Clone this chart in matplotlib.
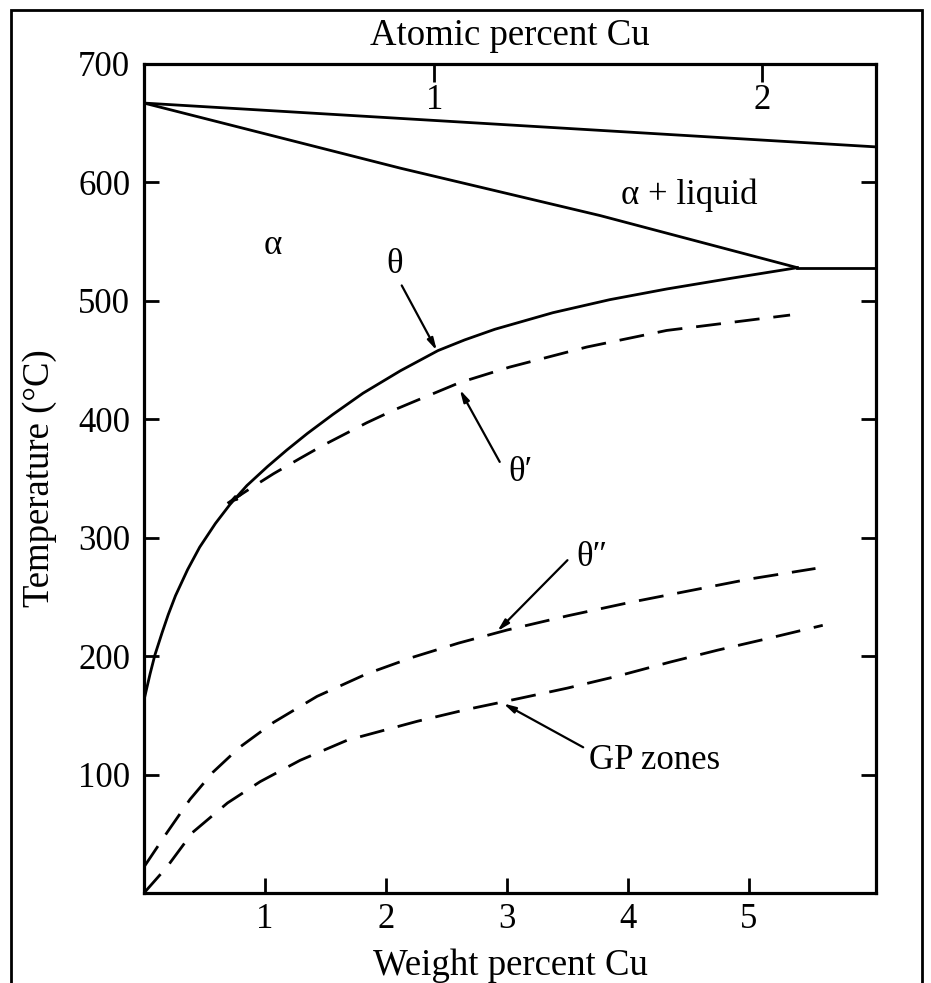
import matplotlib
matplotlib.use("Agg")
import matplotlib.pyplot as plt
from matplotlib.patches import Rectangle

plt.rcParams['font.family'] = ['Liberation Serif', 'DejaVu Serif']

## boundary lines (wt% Cu, deg C)
liquidus_x = [0.0, 6.05]
liquidus_y = [667, 630]

solidus_x = [0.0, 2.12, 3.77, 5.40]
solidus_y = [667, 612, 572, 528]

eutectic_x = [5.40, 6.05]
eutectic_y = [528, 528]

theta_x = [0.0, 0.05, 0.09, 0.15, 0.20, 0.26, 0.36, 0.46, 0.59, 0.71, 0.85, 1.02, 1.18,
           1.35, 1.56, 1.81, 2.12, 2.43, 2.65, 2.90, 3.14, 3.38, 3.85, 4.32, 4.85, 5.40]
theta_y = [163, 185, 201, 220, 235, 251, 273, 292, 312, 328, 344, 360, 374,
           388, 404, 422, 441, 458, 467, 476, 483, 490, 501, 510, 519, 528]

theta1_x = [0.69, 0.90, 1.07, 1.29, 1.48, 1.84, 2.07, 2.21, 2.61, 3.02, 3.66, 4.32, 4.87, 5.34]
theta1_y = [329, 343, 354, 367, 378, 397, 408, 414, 431, 444, 461, 475, 482, 488]

theta2_x = [0.0, 0.19, 0.38, 0.57, 0.79, 1.07, 1.43, 1.84, 2.22, 2.60, 3.00, 3.50, 4.00,
            4.50, 5.00, 5.55]
theta2_y = [22, 51, 79, 102, 123, 144, 166, 185, 199, 211, 222, 234, 245,
            255, 265, 274]

gp_x = [0.0, 0.19, 0.40, 0.69, 0.96, 1.29, 1.68, 2.26, 2.67, 3.09, 3.50, 3.91, 4.35,
        4.74, 5.12, 5.61]
gp_y = [0, 22, 51, 76, 94, 112, 129, 145, 155, 164, 173, 183, 195,
        205, 214, 226]

wt_ticks = [1, 2, 3, 4, 5]
temp_ticks = [100, 200, 300, 400, 500, 600, 700]
at_ticks_pos = [2.40, 5.11]   # where atomic 1 % and 2 % sit on the wt% scale
at_ticks_lab = ['1', '2']

fig = plt.figure(figsize=(9.31, 9.83), dpi=100)
ax = fig.add_axes([0.1547, 0.0916, 0.9409 - 0.1547, 0.9349 - 0.0916])

lw = 2.0
dash = (0, (9, 5))
ax.plot(liquidus_x, liquidus_y, color='black', lw=lw)
ax.plot(solidus_x, solidus_y, color='black', lw=lw)
ax.plot(eutectic_x, eutectic_y, color='black', lw=lw)
ax.plot(theta_x, theta_y, color='black', lw=lw)
ax.plot(theta1_x, theta1_y, color='black', lw=lw, linestyle=dash)
ax.plot(theta2_x, theta2_y, color='black', lw=lw, linestyle=dash)
ax.plot(gp_x, gp_y, color='black', lw=lw, linestyle=dash)

fs = 25
fl = 26.5
arr = dict(arrowstyle='-|>,head_length=0.7,head_width=0.18', color='black', lw=1.6,
           shrinkA=0, shrinkB=0)
ax.text(1.06, 547, 'α', fontsize=fs, ha='center', va='center')
ax.text(4.51, 589, 'α + liquid', fontsize=fs, ha='center', va='center')
ax.text(2.07, 531, 'θ', fontsize=fs, ha='center', va='center')
ax.annotate('', xy=(2.42, 458), xytext=(2.13, 513), arrowprops=arr)
ax.text(3.11, 355, 'θ′', fontsize=fs, ha='center', va='center')
ax.annotate('', xy=(2.61, 425), xytext=(2.94, 364), arrowprops=arr)
ax.text(3.70, 283, 'θ″', fontsize=fs, ha='center', va='center')
ax.annotate('', xy=(2.92, 221), xytext=(3.50, 281), arrowprops=arr)
ax.text(4.22, 112, 'GP zones', fontsize=fs, ha='center', va='center')
ax.annotate('', xy=(2.97, 160), xytext=(3.63, 123), arrowprops=arr)
# little head where theta' leaves the theta line
ax.annotate('', xy=(0.69, 329), xytext=(0.80, 336),
            arrowprops=dict(arrowstyle='-|>,head_length=0.5,head_width=0.15', color='black',
                            lw=1.4, shrinkA=0, shrinkB=0))

ax.set_xlim(0, 6.05)
ax.set_ylim(0, 700)
ax.set_xticks(wt_ticks)
ax.set_yticks(temp_ticks)
ax.tick_params(direction='in', length=11, width=2, labelsize=fs, right=True)
ax.tick_params(axis='x', pad=7)
ax.tick_params(axis='y', pad=10)
ax.set_xlabel('Weight percent Cu', fontsize=fl, labelpad=9)
ax.set_ylabel('Temperature (°C)', fontsize=fl, labelpad=15)
for s in ax.spines.values():
    s.set_linewidth(2.3)

ax2 = ax.twiny()
ax2.set_xlim(ax.get_xlim())
ax2.set_xticks(at_ticks_pos)
ax2.set_xticklabels(at_ticks_lab)
ax2.tick_params(axis='x', direction='in', length=13, width=2, labelsize=fs, pad=-38)
ax2.set_xlabel('Atomic percent Cu', fontsize=fl, labelpad=14)

# thin frame around the whole picture
fig.patches.append(Rectangle((11 / 931, -0.05), (922 - 11) / 931, 1.05 - 10 / 983,
                             transform=fig.transFigure, fill=False, lw=2, edgecolor='black'))

fig.savefig('out.png', dpi=100)
